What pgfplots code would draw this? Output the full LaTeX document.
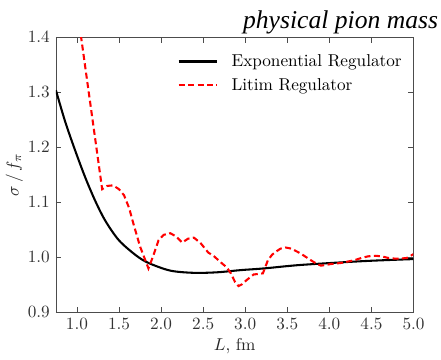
\documentclass[border=0pt]{standalone}
\usepackage{fontspec}
\newfontfamily\titlefont{Liberation Serif Italic}
\usepackage{pgfplots}
\pgfplotsset{compat=1.18}
\begin{document}
\begin{tikzpicture}
\begin{axis}[
  scale only axis,
  width=208pt, height=160pt,
  xmin=0.75, xmax=5.0, ymin=0.9, ymax=1.4,
  xtick={1.0,1.5,...,5.0},
  ytick={0.9,1.0,...,1.4},
  xticklabel style={/pgf/number format/.cd,fixed,fixed zerofill,precision=1},
  yticklabel style={/pgf/number format/.cd,fixed,fixed zerofill,precision=1},
  ticklabel style={text=black!80},
  tick align=inside,
  tick pos=both,
  axis line style={gray!60!black},
  tick style={gray!60!black},
  major tick length=3pt,
  xlabel={$L$, fm},
  ylabel={$\sigma\,/\,f_\pi$},
  label style={text=black!85},
  xlabel style={yshift=2pt},
  ylabel style={yshift=-4pt},
  legend style={draw=none, fill=none, at={(0.325,0.965)}, anchor=north west, font=\normalsize, row sep=1.5pt,
    /tikz/every odd column/.append style={column sep=6pt}},
  legend image code/.code={\draw[#1] (0cm,0cm) -- (0.78cm,0cm);},
  legend cell align=left,
  clip=true,
]
\addplot[black, line width=1.2pt, smooth] coordinates {
(0.75,1.304)(0.86,1.247)(0.98,1.194)(1.10,1.145)(1.22,1.102)(1.34,1.066)(1.50,1.031)(1.70,1.004)(1.85,0.990)(2.11,0.976)(2.39,0.972)(2.67,0.973)(2.95,0.977)(3.22,0.980)(3.63,0.986)(4.14,0.991)(4.5,0.994)(5.0,0.997)
};
\addlegendentry{Exponential Regulator}
\addplot[red, line width=1.2pt, dash pattern=on 3.5pt off 2pt] coordinates {
(1.00,1.455)(1.05,1.40)(1.30,1.124)(1.36,1.130)(1.43,1.131)(1.50,1.124)(1.56,1.113)(1.62,1.09)(1.67,1.062)(1.75,1.02)(1.85,0.980)(1.90,1.00)(1.97,1.031)(2.03,1.041)(2.11,1.044)(2.18,1.038)(2.25,1.027)(2.32,1.034)(2.39,1.036)(2.47,1.026)(2.56,1.009)(2.63,1.002)(2.71,0.991)(2.78,0.982)(2.83,0.971)(2.88,0.955)(2.92,0.948)(2.96,0.951)(3.01,0.958)(3.10,0.969)(3.21,0.971)(3.27,0.995)(3.32,1.005)(3.37,1.011)(3.42,1.016)(3.48,1.018)(3.55,1.016)(3.66,1.007)(3.75,0.998)(3.82,0.991)(3.90,0.985)(4.02,0.988)(4.14,0.990)(4.30,0.995)(4.38,0.999)(4.46,1.002)(4.55,1.003)(4.62,1.002)(4.70,0.999)(4.77,0.998)(4.85,0.998)(4.92,0.999)(5.0,1.006)
};
\addlegendentry{Litim Regulator}
\end{axis}
\node[anchor=base east, inner sep=0pt, font=\titlefont\fontsize{14.9}{18}\selectfont] (title) at ([xshift=14.5pt,yshift=5.2pt]current axis.north east) {physical pion mass};
\path (title.north east) ++(1.5pt,6pt);
\end{tikzpicture}
\end{document}
